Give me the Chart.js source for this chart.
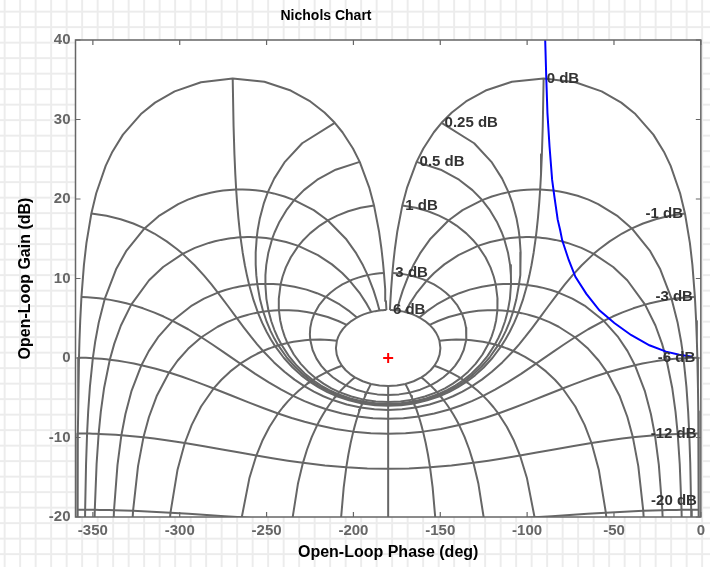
<!DOCTYPE html>
<html>
<head>
<meta charset="utf-8">
<title>Nichols Chart</title>
<script src="https://cdn.jsdelivr.net/npm/chart.js@4.4.1/dist/chart.umd.min.js"></script>
<style>
  html, body { margin: 0; padding: 0; }
  body {
    width: 710px; height: 567px; overflow: hidden;
    background-color: #fff;
    background-image:
      linear-gradient(to right, #ececec 2px, transparent 2px),
      linear-gradient(to bottom, #ececec 2px, transparent 2px);
    background-size: 15.5px 15.5px;
    background-position: 3.7px 10.7px;
  }
  canvas { display: block; }
</style>
</head>
<body>
<canvas id="nichols" width="710" height="567"></canvas>
<script>
'use strict';

/* ── Data ──────────────────────────────────────────────────────────────── */
const phaseTicks = [-350, -300, -250, -200, -150, -100, -50, 0];
const gainTicks = [-20, -10, 0, 10, 20, 30, 40];

// closed-loop gain contours (dB) and closed-loop phase contours (deg) of the grid
const clGains = [6, 3, 1, 0.5, 0.25, 0, -1, -3, -6, -12, -20];
const clPhases = [-1, -5, -10, -20, -30, -50, -90, -120, -150, -180, -210, -240, -270, -310, -330, -340, -350, -355, -359];

// sample steps: closed-loop phase along each gain contour, closed-loop gain along each phase contour
const halfSweep = [1, 2, 3, 4, 5, 6, 7.5, 9, 10, 12.5, 15, 17.5, 20, 25, 30, 35, 40, 45, 50, 60, 70, 80, 90, 100, 110, 120, 135, 150, 165, 180];
const phaseSweep = [...halfSweep.map(v => -v), ...halfSweep.slice(0, -1).reverse().map(v => v - 360)];
const gainSweep = [6, 5, 4, 3, 2.5, 2, 1.5, 1, 0.75, 0.5, 0.4, 0.3, 0.25, 0.2, 0.15, 0.1, 0.05, 0, -0.05, -0.1, -0.15, -0.2, -0.3, -0.4, -0.5, -0.75,
  -1, -1.5, -2, -3, -4, -5, -6, -8, -10, -12, -15, -20, -25, -30, -40];

// open-loop response
const olPhase = [-90.0, -89.6, -89.0, -88.3, -87.1, -85.6, -84.3, -82.4, -81.0, -79.8, -76.0, -72.2, -66.0, -58.4, -49.8, -40.2, -29.6, -20.0, -12.4, -4.7];
const olGain = [43.0, 40.0, 35.4, 30.8, 26.6, 22.4, 20.3, 17.4, 16.1, 14.8, 12.3, 10.2, 8.1, 6.0, 4.4, 2.9, 1.6, 0.8, 0.4, 0.16];

// critical point
const critPhase = [-180];
const critGain = [0];

/* ── Helpers ───────────────────────────────────────────────────────────── */
// closed-loop T (dB, deg) -> open-loop L = T/(1-T) as {x: phase, y: gain}
function clToOl(gdB, pdeg) {
  const m = Math.pow(10, gdB / 20), a = pdeg * Math.PI / 180;
  const tr = m * Math.cos(a), ti = m * Math.sin(a);
  const dr = 1 - tr, di = -ti, d = dr * dr + di * di;
  const lr = (tr * dr + ti * di) / d, li = (ti * dr - tr * di) / d;
  let ph = Math.atan2(li, lr) * 180 / Math.PI;
  ph = ((ph % 360) + 360) % 360 - 360;
  return { x: ph, y: 20 * Math.log10(Math.hypot(lr, li)) };
}

const FONT = '"Liberation Sans", Arial, Helvetica, sans-serif';
Chart.defaults.font.family = FONT;

const gridStyle = {
  borderColor: 'rgb(102,102,102)', borderWidth: 2, borderJoinStyle: 'round',
  pointRadius: 0, showLine: true, fill: false, clip: 0, order: 2
};

const datasets = [
  {
    data: olPhase.map((p, i) => ({ x: p, y: olGain[i] })),
    borderColor: '#0000ff', borderWidth: 2, showLine: true, pointRadius: 0, clip: 0, order: 0
  },
  {
    data: critPhase.map((p, i) => ({ x: p, y: critGain[i] })),
    pointStyle: 'cross', pointRadius: 5, borderColor: '#ff0000', borderWidth: 2, showLine: false, order: 0
  },
  ...clGains.map(g => ({ ...gridStyle, data: phaseSweep.map(p => clToOl(g, p)) })),
  ...clPhases.map(p => ({ ...gridStyle, data: gainSweep.map(g => clToOl(g, p)) }))
];

/* ── Plugin: white axes, box, inward ticks, contour labels, title ──────── */
const nicholsDecor = {
  id: 'nicholsDecor',
  beforeDraw(chart) {
    const { ctx, chartArea: a } = chart;
    ctx.save();
    ctx.fillStyle = '#fff';
    ctx.fillRect(a.left, a.top, a.width, a.height);
    ctx.restore();
  },
  afterDatasetsDraw(chart) {
    const { ctx, chartArea: a, scales: { x, y } } = chart;
    ctx.save();

    ctx.font = `bold 15px ${FONT}`;
    ctx.fillStyle = '#333';
    ctx.textBaseline = 'middle';
    clGains.forEach(g => {
      const pt = clToOl(g, clPhases[0]);
      const px = x.getPixelForValue(pt.x);
      const py = Math.min(y.getPixelForValue(pt.y), a.bottom - 16);
      ctx.textAlign = g >= 0 ? 'left' : 'right';
      ctx.fillText(`${g} dB`, g >= 0 ? px + 3 : px - 2, py);
    });

    ctx.strokeStyle = '#666';
    ctx.lineWidth = 1.5;
    ctx.strokeRect(a.left, a.top, a.width, a.height);
    ctx.lineWidth = 1.2;
    ctx.beginPath();
    phaseTicks.forEach(v => {
      const px = x.getPixelForValue(v);
      ctx.moveTo(px, a.bottom); ctx.lineTo(px, a.bottom - 5);
      ctx.moveTo(px, a.top); ctx.lineTo(px, a.top + 5);
    });
    gainTicks.forEach(v => {
      const py = y.getPixelForValue(v);
      ctx.moveTo(a.left, py); ctx.lineTo(a.left + 5, py);
      ctx.moveTo(a.right, py); ctx.lineTo(a.right - 5, py);
    });
    ctx.stroke();
    ctx.restore();
  },
  afterDraw(chart) {
    const { ctx } = chart;
    ctx.save();
    ctx.font = `bold 14px ${FONT}`;
    ctx.fillStyle = '#000';
    ctx.textAlign = 'center';
    ctx.textBaseline = 'middle';
    ctx.fillText('Nichols Chart', 326, 16);
    ctx.restore();
  }
};

/* ── Chart ─────────────────────────────────────────────────────────────── */
new Chart(document.getElementById('nichols'), {
  type: 'scatter',
  data: { datasets },
  plugins: [nicholsDecor],
  options: {
    responsive: false,
    animation: false,
    devicePixelRatio: 1,
    events: [],
    layout: { padding: { top: 40, right: 8.5, left: 0, bottom: 0 } },
    plugins: { legend: { display: false }, tooltip: { enabled: false }, title: { display: false } },
    scales: {
      x: {
        type: 'linear', min: -360, max: 0,
        afterBuildTicks: s => { s.ticks = phaseTicks.map(v => ({ value: v })); },
        afterFit: s => { s.height = 50; },
        grid: { display: false, drawTicks: false },
        border: { display: false },
        ticks: { color: '#666', font: { size: 15, weight: 'bold' }, padding: 5, maxRotation: 0, autoSkip: false },
        title: { display: true, text: 'Open-Loop Phase (deg)', color: '#000', font: { size: 16, weight: 'bold' }, padding: { top: 0, bottom: 4.4 } }
      },
      y: {
        type: 'linear', min: -20, max: 40,
        afterBuildTicks: s => { s.ticks = gainTicks.map(v => ({ value: v })); },
        afterFit: s => { s.width = 75.5; },
        grid: { display: false, drawTicks: false },
        border: { display: false },
        ticks: { color: '#666', font: { size: 15, weight: 'bold' }, padding: 5, autoSkip: false },
        title: { display: true, text: 'Open-Loop Gain (dB)', color: '#000', font: { size: 16, weight: 'bold' }, padding: { top: 16.4, bottom: 0 } }
      }
    }
  }
});
</script>
</body>
</html>
